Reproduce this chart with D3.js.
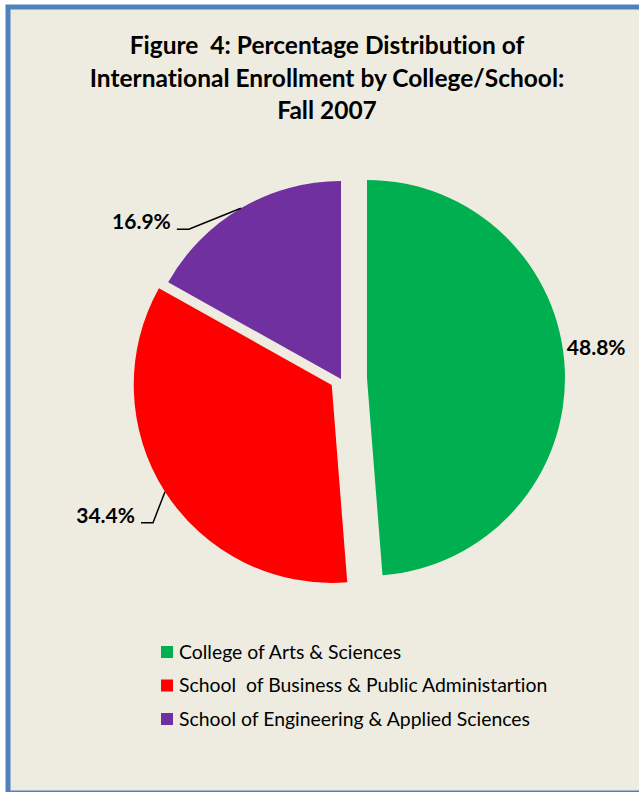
<!DOCTYPE html>
<html>
<head>
<meta charset="utf-8">
<script src="https://cdn.jsdelivr.net/npm/d3@7"></script>
<style>
  html, body { margin: 0; padding: 0; background: #ffffff; }
  svg text { white-space: pre; font-variant-ligatures: none; }
</style>
</head>
<body>
<svg id="chart" width="639" height="792"></svg>
<script>
// chart data
const categories = [
  "College of Arts & Sciences",
  "School  of Business & Public Administartion",
  "School of Engineering & Applied Sciences"
];
const shares = [48.8, 34.4, 16.9];
const sliceColors = ["#00b050", "#ff0000", "#7030a0"];
const titleLines = [
  "Figure  4: Percentage Distribution of",
  "International Enrollment by College/School:",
  "Fall 2007"
];

const svg = d3.select('#chart');
const width = +svg.attr('width');
const height = +svg.attr('height');

// frame (right side runs off the picture, like the original)
svg.append('rect')
  .attr('x', 8).attr('y', 7)
  .attr('width', 660).attr('height', 786)
  .attr('fill', '#eeece1')
  .attr('stroke', '#4f81bd')
  .attr('stroke-width', 5);

// title
svg.append('text')
  .attr('text-anchor', 'middle')
  .attr('font-family', 'Lato, sans-serif')
  .attr('font-weight', 'bold')
  .attr('font-size', 24.5)
  .attr('fill', '#000')
  .selectAll('tspan')
  .data(titleLines)
  .enter()
  .append('tspan')
  .attr('x', 327)
  .attr('y', (d, i) => 54 + i * 32.5)
  .text(d => d);

// pie
const cx = 341, cy = 379, radius = 198;
const explode = [26, 11, 0];           // how far each slice is pulled out
const leader = [false, true, true];    // Excel style leader lines
const labelShift = [[2, -15], [-12, 31], [-52, 21]];

const pie = d3.pie().sort(null).value(d => d);
const arcs = pie(shares);
const arc = d3.arc().innerRadius(0).outerRadius(radius);

const unit = (a) => [Math.sin(a), -Math.cos(a)];

const g = svg.append('g').attr('transform', 'translate(' + cx + ',' + cy + ')');

const slices = g.selectAll('g.slice')
  .data(arcs)
  .enter()
  .append('g')
  .attr('class', 'slice')
  .attr('transform', (d, i) => {
    const u = unit((d.startAngle + d.endAngle) / 2);
    return 'translate(' + (u[0] * explode[i]) + ',' + (u[1] * explode[i]) + ')';
  });

slices.append('path')
  .attr('d', arc)
  .attr('fill', (d, i) => sliceColors[i]);

// labels
slices.each(function(d, i) {
  const sel = d3.select(this);
  const u = unit((d.startAngle + d.endAngle) / 2);
  const px = u[0] * radius, py = u[1] * radius;
  const ex = px + labelShift[i][0], ey = py + labelShift[i][1];
  const txt = d3.format('.1f')(d.data) + '%';

  if (leader[i]) {
    sel.append('path')
      .attr('d', 'M' + px + ',' + py + 'L' + ex + ',' + ey + 'L' + (ex - 12) + ',' + ey)
      .attr('fill', 'none')
      .attr('stroke', '#000')
      .attr('stroke-width', 1.5);
    sel.append('text')
      .attr('x', ex - 18).attr('y', ey)
      .attr('text-anchor', 'end')
      .attr('font-family', 'Lato, sans-serif')
      .attr('font-weight', 'bold')
      .attr('font-size', 21)
      .attr('fill', '#000')
      .text(txt);
  } else {
    sel.append('text')
      .attr('x', ex).attr('y', ey)
      .attr('text-anchor', 'start')
      .attr('font-family', 'Lato, sans-serif')
      .attr('font-weight', 'bold')
      .attr('font-size', 21)
      .attr('fill', '#000')
      .text(txt);
  }
});

// legend
const legend = svg.append('g')
  .attr('transform', 'translate(161,646)')
  .selectAll('g')
  .data(categories)
  .enter()
  .append('g')
  .attr('transform', (d, i) => 'translate(0,' + (i * 33.5) + ')');

legend.append('rect')
  .attr('width', 12).attr('height', 12)
  .attr('fill', (d, i) => sliceColors[i]);

legend.append('text')
  .attr('x', 18).attr('y', 12.5)
  .attr('font-family', 'Lato, sans-serif')
  .attr('font-size', 19.4)
  .attr('fill', '#000')
  .text(d => d);
</script>
</body>
</html>
